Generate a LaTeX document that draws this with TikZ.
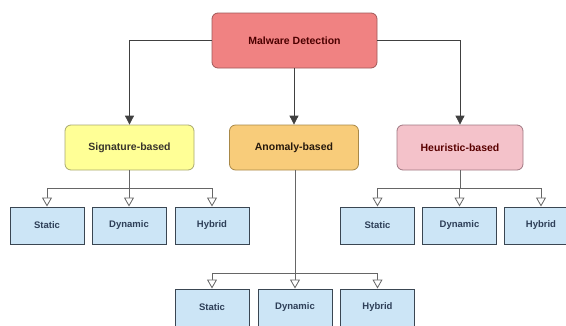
\documentclass[tikz,border=0pt]{standalone}
\usepackage{fontspec}
\setmainfont{Liberation Sans}
\usetikzlibrary{arrows.meta}
\definecolor{mainfill}{HTML}{F08282}
\definecolor{maindraw}{HTML}{A05858}
\definecolor{sigfill}{HTML}{FFFF96}
\definecolor{sigdraw}{HTML}{A8A870}
\definecolor{anofill}{HTML}{F8CC7A}
\definecolor{anodraw}{HTML}{A88848}
\definecolor{heufill}{HTML}{F4C2CA}
\definecolor{heudraw}{HTML}{A07882}
\definecolor{leaffill}{HTML}{CCE5F6}
\definecolor{leafdraw}{HTML}{3A4652}
\definecolor{leaftext}{HTML}{2E3F58}
\tikzset{
  parentbox/.style={draw, rounded corners=6pt, line width=0.8pt, align=center,
    font=\fontsize{10.5}{12}\selectfont\bfseries},
  leafbox/.style={draw=leafdraw, fill=leaffill, line width=1pt, minimum width=74pt,
    minimum height=37pt, font=\fontsize{9.5}{11}\selectfont\bfseries, text=leaftext},
  mainarrow/.style={draw=black!75, line width=0.8pt, -{Triangle[length=9pt,width=9pt]}},
  leafarrow/.style={draw=black!60, line width=0.8pt, -{Triangle[open,length=9pt,width=10pt,fill=white]}},
  plainline/.style={draw=black!60, line width=0.8pt}
}
\begin{document}
\begin{tikzpicture}[x=1pt,y=-1pt]
\useasboundingbox (0,0) rectangle (566,325);
% parents
\node[parentbox, fill=mainfill, draw=maindraw, text=black!70!red, minimum width=165pt, minimum height=55pt] (main) at (294.5,40.5) {Malware Detection};
\node[parentbox, fill=sigfill, draw=sigdraw, text=black!80!olive, minimum width=129pt, minimum height=45pt] (sig) at (129.5,147.5) {Signature-based};
\node[parentbox, fill=anofill, draw=anodraw, text=black!80!brown, minimum width=129pt, minimum height=45pt] (ano) at (294,147.5) {Anomaly-based};
\node[parentbox, fill=heufill, draw=heudraw, text=black!65!red, minimum width=126pt, minimum height=45pt] (heu) at (460,147.5) {Heuristic-based};
% leaves signature
\node[leafbox] (s1) at (47,225.5) {Static};
\node[leafbox] (s2) at (129,225.5) {Dynamic};
\node[leafbox] (s3) at (212,225.5) {Hybrid};
% leaves heuristic
\node[leafbox] (h1) at (377.5,225.5) {Static};
\node[leafbox] (h2) at (459.5,225.5) {Dynamic};
\node[leafbox] (h3) at (541,225.5) {Hybrid};
% leaves anomaly
\node[leafbox] (a1) at (212,307.5) {Static};
\node[leafbox] (a2) at (295,307.5) {Dynamic};
\node[leafbox] (a3) at (377.5,307.5) {Hybrid};
% junction coordinates
\coordinate (ml) at (129.5,40.5);
\coordinate (mr) at (460,40.5);
\coordinate (sj) at (129.5,188);
\coordinate (hj) at (460,188);
\coordinate (aj) at (295,273);
% main arrows
\draw[mainarrow] (main.west) -- (ml) -- (sig.north);
\draw[mainarrow] (main.east) -- (mr) -- (heu.north);
\draw[mainarrow] (main.south -| ano.north) -- (ano.north);
% signature children
\draw[plainline] (sig.south) -- (sj);
\draw[plainline] (sj -| s1) -- (sj -| s3);
\draw[leafarrow] (sj -| s1) -- (s1.north);
\draw[leafarrow] (sj -| s2) -- (s2.north);
\draw[leafarrow] (sj -| s3) -- (s3.north);
% heuristic children
\draw[plainline] (heu.south) -- (hj);
\draw[plainline] (hj -| h1) -- (hj -| h3);
\draw[leafarrow] (hj -| h1) -- (h1.north);
\draw[leafarrow] (hj -| h2) -- (h2.north);
\draw[leafarrow] (hj -| h3) -- (h3.north);
% anomaly children
\draw[plainline] (ano.south -| aj) -- (aj);
\draw[plainline] (aj -| a1) -- (aj -| a3);
\draw[leafarrow] (aj -| a1) -- (a1.north);
\draw[leafarrow] (aj -| a2) -- (a2.north);
\draw[leafarrow] (aj -| a3) -- (a3.north);
\end{tikzpicture}
\end{document}
